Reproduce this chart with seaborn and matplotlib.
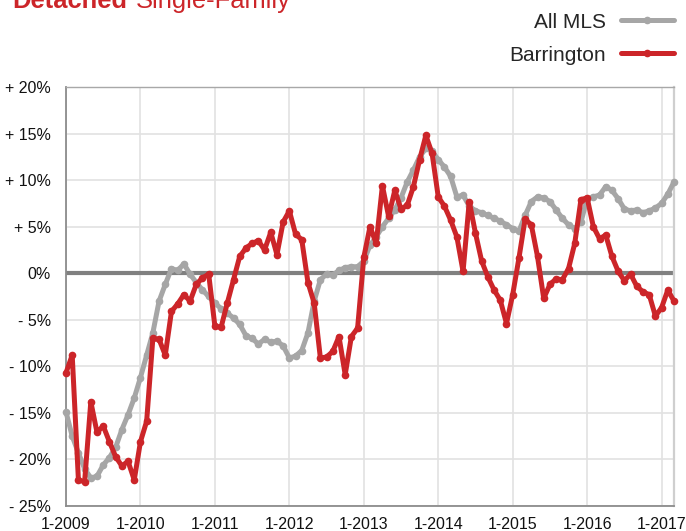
import numpy as np
import pandas as pd
import matplotlib
matplotlib.use("Agg")
import matplotlib.pyplot as plt
import seaborn as sns

# ---- data (year-over-year % change, monthly Jan 2009 - Mar 2017) ----
months = pd.date_range("2009-01-01", periods=99, freq="MS")
all_mls = [-14.9, -17.5, -19.3, -21.0, -22.0, -21.8, -20.6, -19.8, -18.7, -16.8, -15.2, -13.4,
           -11.2, -8.8, -6.4, -3.0, -1.2, 0.5, 0.3, 1.0, -0.1, -1.0, -1.8, -2.5,
           -3.2, -3.8, -4.3, -4.8, -5.5, -6.7, -7.0, -7.6, -7.1, -7.4, -7.3, -7.8,
           -9.1, -8.9, -8.3, -6.4, -3.0, -0.7, -0.1, -0.2, 0.3, 0.6, 0.7, 0.7,
           1.3, 3.0, 3.9, 5.0, 5.9, 6.8, 8.1, 9.8, 11.1, 12.5, 13.4, 13.1,
           12.2, 11.4, 10.4, 8.2, 8.4, 7.2, 6.7, 6.5, 6.2, 5.9, 5.6, 5.2,
           4.8, 4.5, 6.2, 7.7, 8.2, 8.1, 7.7, 6.8, 5.9, 5.2, 4.8, 5.5,
           8.0, 8.2, 8.4, 9.3, 8.9, 8.0, 6.9, 6.7, 6.8, 6.5, 6.7, 7.0,
           7.5, 8.5, 9.8]
barrington = [-10.7, -8.8, -22.2, -22.4, -13.8, -17.1, -16.4, -18.1, -19.7, -20.7, -20.2, -22.2,
              -18.1, -15.9, -7.0, -7.1, -8.8, -4.1, -3.3, -2.3, -3.0, -1.2, -0.5, -0.1,
              -5.7, -5.8, -3.2, -0.7, 1.8, 2.7, 3.2, 3.5, 2.5, 4.4, 2.0, 5.5,
              6.7, 4.2, 3.6, -1.0, -3.2, -9.1, -9.0, -8.4, -6.8, -10.9, -6.8, -5.9,
              1.7, 5.0, 3.2, 9.4, 6.1, 8.9, 6.9, 7.3, 9.3, 12.2, 14.8, 12.9,
              8.2, 7.2, 5.7, 3.9, 0.2, 7.7, 4.3, 1.3, -0.4, -1.8, -2.9, -5.4,
              -2.3, 1.6, 5.8, 5.2, 1.8, -2.7, -1.2, -0.6, -0.7, 0.5, 3.2, 7.9,
              8.1, 5.0, 3.7, 4.1, 1.8, 0.2, -0.8, -0.1, -1.4, -2.0, -2.3, -4.6,
              -3.7, -1.8, -3.0]
x_tick_labels = ["1-2009", "1-2010", "1-2011", "1-2012", "1-2013",
                 "1-2014", "1-2015", "1-2016", "1-2017"]
y_ticks = [20, 15, 10, 5, 0, -5, -10, -15, -20, -25]
y_tick_labels = ["+ 20%", "+ 15%", "+ 10%", "+ 5%", "0%", "- 5%", "- 10%", "- 15%", "- 20%", "- 25%"]

RED = "#cc2529"
GRAY = "#a6a6a6"

df = pd.DataFrame({"month": months, "pos": np.arange(len(months)),
                   "All MLS": all_mls, "Barrington": barrington})

sns.set_theme(style="white")
plt.rcParams["font.family"] = ["Liberation Sans", "DejaVu Sans"]

fig = plt.figure(figsize=(6.86, 5.31), dpi=100)
ax = fig.add_axes([66 / 686, 1 - 506 / 531, (674 - 66) / 686, (506 - 87) / 531])

ax.axhline(0, color="#808080", lw=3.0, zorder=2)

line_kw = dict(lw=3.6, marker="o", markeredgewidth=0, clip_on=False,
               solid_capstyle="round", solid_joinstyle="round")
sns.lineplot(data=df, x="pos", y="All MLS", ax=ax, color=GRAY,
             markersize=7.2, label="All MLS", zorder=3, **line_kw)
sns.lineplot(data=df, x="pos", y="Barrington", ax=ax, color=RED,
             markersize=7.5, label="Barrington", zorder=4, **line_kw)

ax.set_xlim(0, 98)
ax.set_ylim(-25, 20)
ax.set_xticks(np.arange(0, 97, 12))
ax.set_xticklabels(x_tick_labels)
ax.set_yticks(y_ticks)
ax.set_yticklabels(y_tick_labels)
ax.set_xlabel("")
ax.set_ylabel("")
ax.tick_params(axis="both", length=0, labelsize=11.5, colors="#111111")
ax.tick_params(axis="y", pad=11)
ax.tick_params(axis="x", pad=8)
ax.grid(True, color="#e2e2e2", lw=1.2, zorder=0)
ax.set_axisbelow(True)

for side in ["left", "bottom"]:
    ax.spines[side].set_color("#8c8c8c")
    ax.spines[side].set_linewidth(1.3)
ax.spines["top"].set_color("#a8a8a8")
ax.spines["top"].set_linewidth(1.0)
ax.spines["right"].set_color("#cfcfcf")
ax.spines["right"].set_linewidth(1.6)

ax.get_legend().remove()
handles, labels = ax.get_legend_handles_labels()
for h in handles:
    h.set_markersize(5.5)
fig.legend(handles, labels, loc="upper right", bbox_to_anchor=(1.0, 1.0),
           frameon=False, markerfirst=False, fontsize=15, handlelength=2.5,
           labelspacing=0.68, handletextpad=0.75, borderaxespad=0.0,
           borderpad=0.6)

# title (partly clipped at the top, as in the reference)
t1 = fig.text(12 / 686, 1 - 8 / 531, "Detached", color=RED, fontsize=18.4,
              fontweight="bold", va="baseline", ha="left")
fig.canvas.draw()
bb = t1.get_window_extent()
fig.text(bb.x1 / fig.bbox.width + 9 / 686, 1 - 8 / 531, "Single-Family", color=RED,
         fontsize=18.4, va="baseline", ha="left")

fig.savefig("out.png", dpi=100)
